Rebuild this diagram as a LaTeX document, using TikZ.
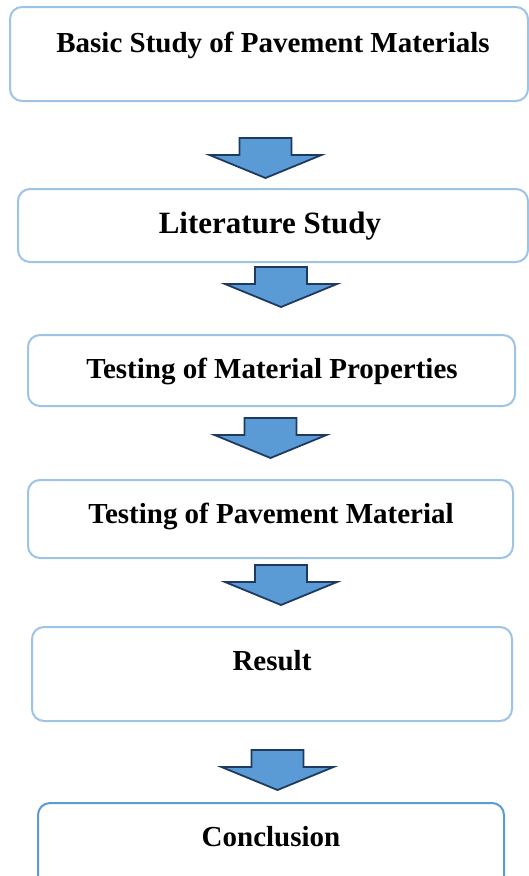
\documentclass[tikz,border=0pt]{standalone}
\usepackage{fontspec}
\setmainfont{Liberation Serif}
\definecolor{boxline}{HTML}{9DC3E6}
\definecolor{boxdark}{HTML}{5B9BD5}
\definecolor{arrowfill}{HTML}{5B9BD5}
\definecolor{arrowline}{HTML}{1F3A60}
\tikzset{
  stepbox/.style={draw=boxline, line width=2pt, rounded corners=12pt, fill=white, inner sep=0pt},
  lbl/.style={anchor=base, inner sep=0pt, font=\bfseries\fontsize{29}{34}\selectfont},
  pics/blockarrow/.style={code={
    \draw[fill=arrowfill, draw=arrowline, line width=1.8pt, line join=miter]
      (-26,0) -- (26,0) -- (26,17) -- (56,17) -- (0,40) -- (-56,17) -- (-26,17) -- cycle;
  }}
}
\begin{document}
\begin{tikzpicture}[x=1pt, y=-1pt]
\useasboundingbox (0,0) rectangle (529,876);
\clip (0,0) rectangle (529,876);
% boxes
\node[stepbox, minimum width=518pt, minimum height=94pt] (b1) at (269,54) {};
\node[stepbox, minimum width=510pt, minimum height=73pt] (b2) at (273,225.5) {};
\node[stepbox, minimum width=487pt, minimum height=71pt] (b3) at (271.5,370.5) {};
\node[stepbox, minimum width=485pt, minimum height=78pt] (b4) at (270.5,519) {};
\node[stepbox, minimum width=480pt, minimum height=94pt] (b5) at (272,674) {};
\node[stepbox, draw=boxdark, minimum width=466pt, minimum height=90pt] (b6) at (271,848) {};
% texts
\node[lbl] (t1) at (273,52) {Basic Study of Pavement Materials};
\node[lbl, font=\bfseries\fontsize{31}{36}\selectfont] (t2) at (270,233) {Literature Study};
\node[lbl] (t3) at (272,378) {Testing of Material Properties};
\node[lbl] (t4) at (271,523) {Testing of Pavement Material};
\node[lbl] (t5) at (272,670) {Result};
\node[lbl] (t6) at (271,846) {Conclusion};
% block arrows
\coordinate (a1) at (265.5,138);
\coordinate (a2) at (281,267);
\coordinate (a3) at (270.5,418);
\coordinate (a4) at (281,565);
\coordinate (a5) at (277.5,750);
\pic at (a1) {blockarrow};
\pic at (a2) {blockarrow};
\pic at (a3) {blockarrow};
\pic at (a4) {blockarrow};
\pic at (a5) {blockarrow};
\end{tikzpicture}
\end{document}
